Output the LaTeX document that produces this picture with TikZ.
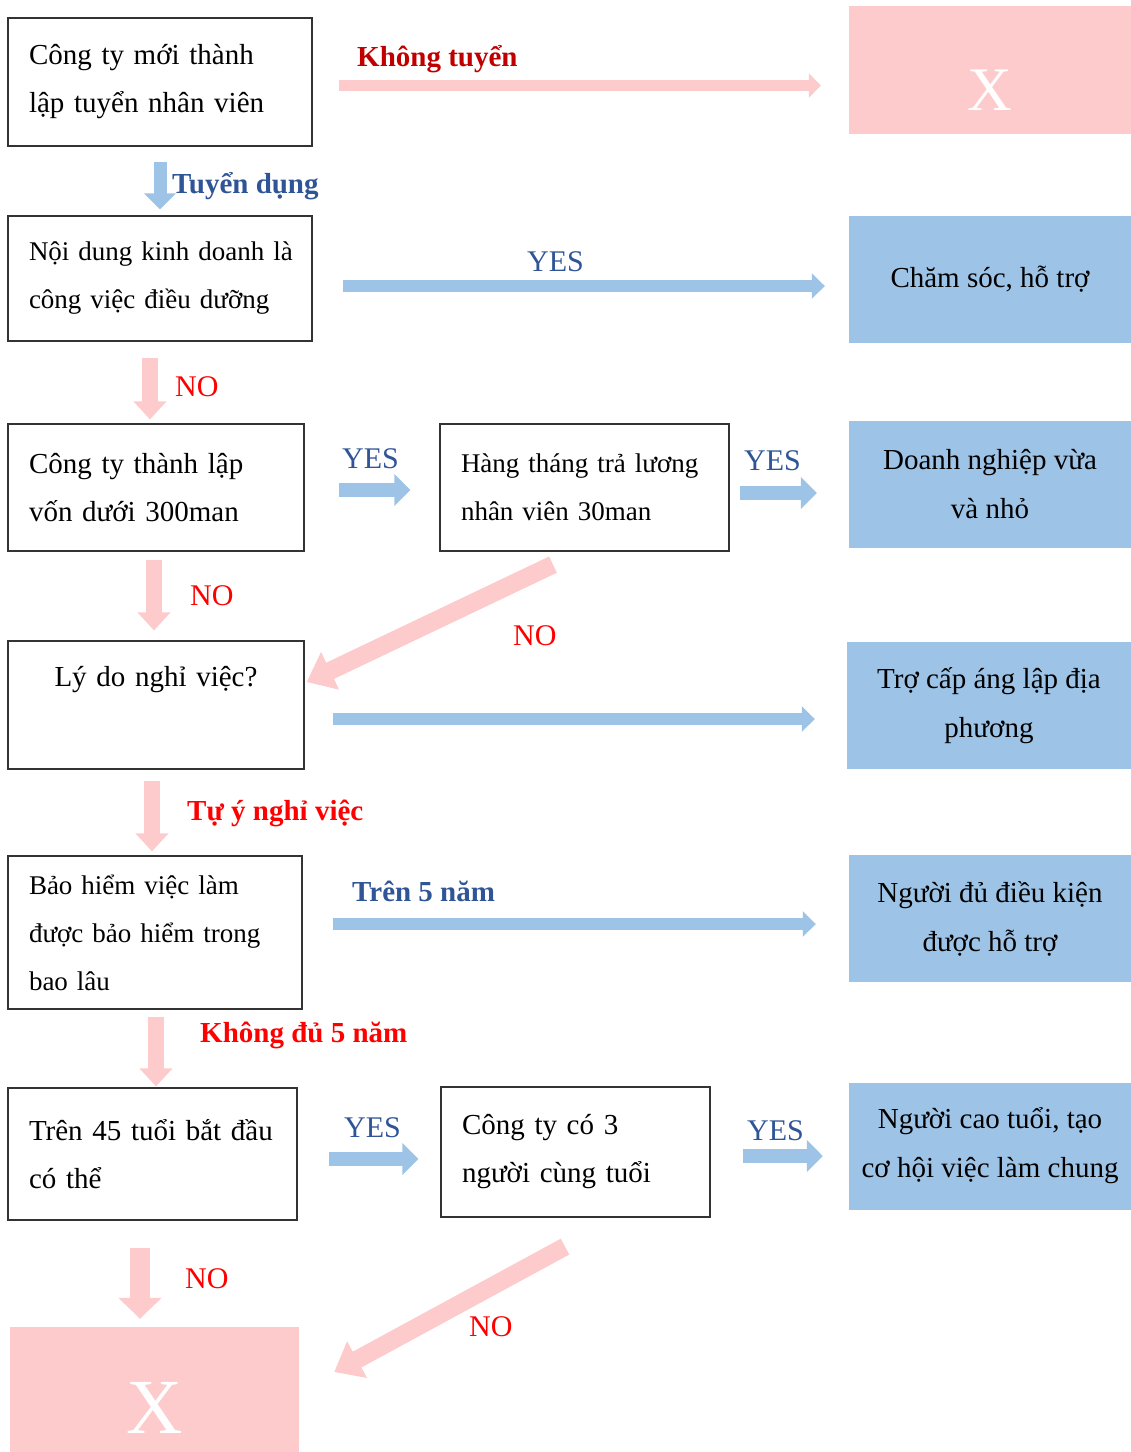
\documentclass[tikz,border=0pt]{standalone}
\usepackage{fontspec}
\setmainfont{Liberation Serif}
\usetikzlibrary{arrows.meta,calc,positioning}

\definecolor{flowpink}{HTML}{FDCBCB}
\definecolor{flowblue}{HTML}{9DC3E6}
\definecolor{labelblue}{HTML}{2F5597}
\definecolor{darkred}{HTML}{C00000}

\begin{document}
\begin{tikzpicture}[
    x=1pt, y=-1pt,
    query/.style={rectangle, draw=black!80, line width=1.2pt, inner xsep=21pt, inner ysep=0pt, align=left, font=\fontsize{29}{48}\selectfont},
    result/.style={rectangle, fill=flowblue, minimum width=282pt, minimum height=127pt, inner sep=0pt, align=center, font=\fontsize{29}{49}\selectfont},
    reject/.style={rectangle, fill=flowpink, text=white, inner sep=0pt, text depth=0pt},
    blueline/.style={draw=flowblue, line width=12pt, -{Triangle[length=13pt,width=25pt]}},
    blueshort/.style={draw=flowblue, line width=14pt, -{Triangle[length=16pt,width=31pt]}},
    pinkline/.style={draw=flowpink, line width=11pt, -{Triangle[length=12pt,width=24pt]}},
    pinkdown/.style={draw=flowpink, line width=16pt, -{Triangle[length=18pt,width=32pt]}},
    pinkdiag/.style={draw=flowpink, line width=18pt, -{Triangle[length=26pt,width=40pt]}},
    yeslabel/.style={text=labelblue, font=\fontsize{30}{30}\selectfont, inner sep=0pt, anchor=west},
    nolabel/.style={text=red, font=\fontsize{30}{30}\selectfont, inner sep=0pt, anchor=west},
    boldlabel/.style={font=\bfseries\fontsize{29}{29}\selectfont, inner sep=0pt, anchor=west}
]
\useasboundingbox (0,0) rectangle (1131,1452);

% Question boxes
\node[query, minimum width=304pt, minimum height=128pt, text width=262pt] (hire) at (160,82) {Công ty mới thành\\lập tuyển nhân viên};
\node[query, minimum width=304pt, minimum height=125pt, text width=262pt, font=\fontsize{27}{48}\selectfont] (nursing) at (160,278.5) {\mbox{Nội dung kinh doanh là}\\công việc điều dưỡng};
\node[query, minimum width=296pt, minimum height=127pt, text width=254pt] (capital) at (156,487.5) {Công ty thành lập\\vốn dưới 300man};
\node[query, minimum width=289pt, minimum height=127pt, text width=247pt, font=\fontsize{27}{48}\selectfont] (salary) at (584.5,487.5) {\mbox{Hàng tháng trả lương}\\nhân viên 30man};
\node[query, minimum width=296pt, minimum height=128pt, text width=254pt, align=center] (reason) at (156,705) {Lý do nghỉ việc?\\[10pt]\mbox{}};
\node[query, minimum width=294pt, minimum height=153pt, text width=252pt, font=\fontsize{27}{48}\selectfont] (insure) at (155,932.5) {Bảo hiểm việc làm\\được bảo hiểm trong\\bao lâu};
\node[query, minimum width=289pt, minimum height=132pt, text width=247pt] (age) at (152.5,1154) {Trên 45 tuổi bắt đầu\\có thể};
\node[query, minimum width=269pt, minimum height=130pt, text width=227pt] (peers) at (575.5,1152) {Công ty có 3\\người cùng tuổi};

% Outcome boxes
\node[reject, minimum width=282pt, minimum height=128pt, text height=80pt, font=\fontsize{62}{62}\selectfont] (rejectTop) at (990,70) {X};
\node[result] (care) at (990,279.5) {Chăm sóc, hỗ trợ};
\node[result] (smallbiz) at (990,484.5) {Doanh nghiệp vừa\\và nhỏ};
\node[result, minimum width=284pt] (subsidy) at (989,705.5) {Trợ cấp áng lập địa\\phương};
\node[result] (eligible) at (990,918.5) {Người đủ điều kiện\\được hỗ trợ};
\node[result] (elderly) at (990,1146) {Người cao tuổi, tạo\\cơ hội việc làm chung};
\node[reject, minimum width=289pt, minimum height=125pt, text height=87pt, font=\fontsize{78}{78}\selectfont] (rejectBottom) at (154.5,1389.5) {X};

% Connectors
\draw[pinkline] ($(hire.east)+(26,3.5)$) -- ($(rejectTop.west)+(-28,15.5)$);
\draw[blueshort, line width=13pt] ($(hire.south)+(0,15)$) -- ($(nursing.north)+(0,-6)$);
\draw[blueline] ($(nursing.east)+(30,7.5)$) -- ($(care.west)+(-24,6.5)$);
\draw[pinkdown] ($(nursing.south)+(-10,16)$) -- ($(capital.north)+(-6,-4)$);
\draw[blueshort] ($(capital.east)+(34,2.5)$) -- ($(salary.west)+(-29,2.5)$);
\draw[blueshort] ($(salary.east)+(10,5.5)$) -- ($(smallbiz.west)+(-32,8.5)$);
\draw[pinkdown] ($(capital.south)+(-2,8)$) -- ($(reason.north)+(-2,-10)$);
\draw[pinkdiag] ($(salary.south)+(-31.5,13)$) -- ($(reason.east)+(2,-23)$);
\draw[blueline] ($(reason.east)+(28,14)$) -- ($(subsidy.west)+(-32,13.5)$);
\draw[pinkdown] ($(reason.south)+(-4,11)$) -- ($(insure.north)+(-3,-4)$);
\draw[blueline] ($(insure.east)+(30,-8.5)$) -- ($(eligible.west)+(-33,5.5)$);
\draw[pinkdown] ($(insure.south)+(1,7)$) -- ($(age.north)+(3.5,-1)$);
\draw[blueshort] ($(age.east)+(31,5)$) -- ($(peers.west)+(-22,7)$);
\draw[blueshort] ($(peers.east)+(32,4)$) -- ($(elderly.west)+(-26,10)$);
\draw[pinkdown, line width=20pt, -{Triangle[length=21pt,width=42pt]}] ($(age.south)+(-12.5,27)$) -- ($(rejectBottom.north)+(-14.5,-8)$);
\draw[pinkdiag] ($(peers.south)+(-10.5,29)$) -- ($(rejectBottom.east)+(35,-17.5)$);

% Labels
\node[boldlabel, text=darkred] (lblSkip) at (357,59) {Không tuyển};
\node[boldlabel, text=labelblue] (lblHire) at (172,186) {Tuyển dụng};
\node[yeslabel] (lblYesCare) at (527,262) {YES};
\node[nolabel] (lblNoNursing) at (175,387) {NO};
\node[yeslabel] (lblYesCapital) at (342,459) {YES};
\node[yeslabel] (lblYesSalary) at (744,461) {YES};
\node[nolabel] (lblNoCapital) at (190,596) {NO};
\node[nolabel] (lblNoSalary) at (513,636) {NO};
\node[boldlabel, text=red] (lblQuit) at (187,813) {Tự ý nghỉ việc};
\node[boldlabel, text=labelblue] (lblOver) at (352,891) {Trên 5 năm};
\node[boldlabel, text=red] (lblUnder) at (200,1035) {Không đủ 5 năm};
\node[yeslabel] (lblYesAge) at (344,1128) {YES};
\node[yeslabel] (lblYesPeers) at (747,1131) {YES};
\node[nolabel] (lblNoAge) at (185,1279) {NO};
\node[nolabel] (lblNoPeers) at (469,1327) {NO};

\end{tikzpicture}
\end{document}
